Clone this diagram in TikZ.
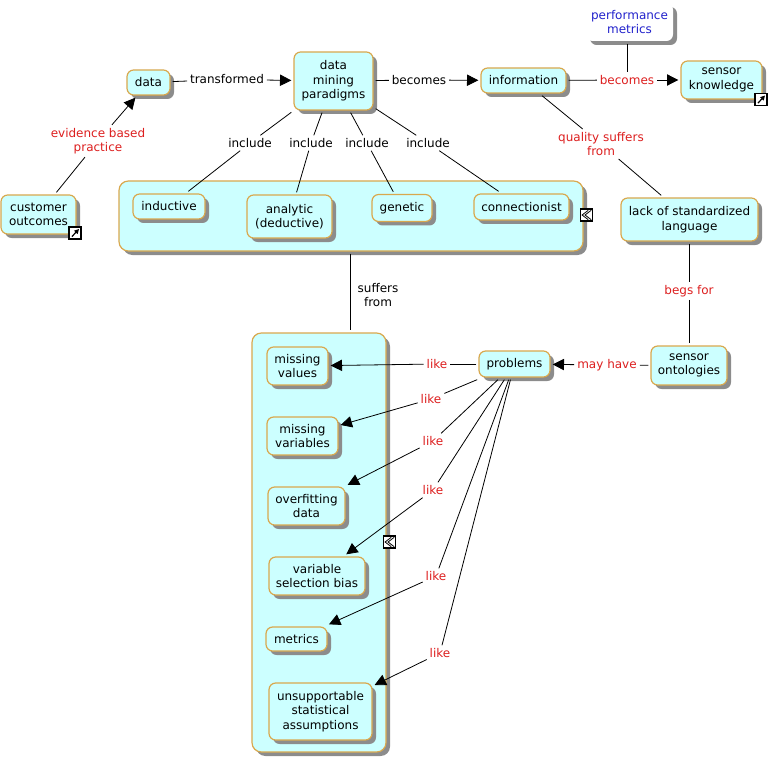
\documentclass[tikz,border=0pt]{standalone}
\usepackage{fontspec}
\setmainfont{DejaVu Sans}
\usetikzlibrary{arrows.meta,shadows}
\definecolor{boxfill}{HTML}{CCFFFF}
\definecolor{boxline}{HTML}{D9A84E}
\definecolor{linkred}{HTML}{DD1F1F}
\definecolor{noteblue}{HTML}{2222CC}
\tikzset{
	boxsize/.style 2 args={minimum width=#1*0.75pt, minimum height=#2*0.75pt},
	concept/.style={draw=boxline, fill=boxfill, line width=0.9pt, rounded corners=5pt, align=center, inner sep=0pt, outer sep=2pt,
		drop shadow={shadow xshift=3pt, shadow yshift=-3pt, fill=black!45, opacity=1}},
	group/.style={concept, rounded corners=7pt},
	note/.style={fill=white, text=noteblue, rounded corners=5pt, align=center, inner sep=0pt, outer sep=2pt,
		drop shadow={shadow xshift=3pt, shadow yshift=-3pt, fill=black!45, opacity=1}},
	lbl/.style={fill=white, align=center, inner sep=2pt},
	rlbl/.style={lbl, text=linkred},
	iconbox/.style={draw=black, fill=white, line width=0.9pt, minimum size=9pt, inner sep=0pt},
	linkicon/.style={iconbox, path picture={
		\draw[line width=0.9pt, -{Triangle[length=3.5pt,width=3.5pt]}] ([shift={(2.2pt,1.8pt)}]path picture bounding box.south west) -- ([shift={(-1.5pt,-1.5pt)}]path picture bounding box.north east);}},
	foldicon/.style={iconbox, path picture={
		\draw[line width=0.6pt] ([shift={(-3.2pt,-1pt)}]path picture bounding box.north east) -- ([shift={(1.2pt,0pt)}]path picture bounding box.west) -- ([shift={(-3.2pt,1pt)}]path picture bounding box.south east);
		\draw[line width=0.6pt] ([shift={(-1pt,-1pt)}]path picture bounding box.north east) -- ([shift={(3.4pt,0pt)}]path picture bounding box.west) -- ([shift={(-1pt,1pt)}]path picture bounding box.south east);}},
}
\begin{document}
\begin{tikzpicture}[x=0.75pt, y=-0.75pt, line width=0.6pt, font=\fontsize{9}{10.9}\selectfont, >={Triangle[length=8.5pt,width=8.5pt]}]
	\useasboundingbox (0, 0) rectangle (770, 759);

	% groups
	\node[group, boxsize={464}{70}] (paradigms) at (351, 216) {};
	\node[group, boxsize={134}{419}] (issues) at (319, 542.5) {};

	% top row
	\node[concept, boxsize={43}{25}] (data) at (148.5, 82.5) {data};
	\node[concept, boxsize={79}{58}] (mining) at (333.5, 81) {data\\mining\\paradigms};
	\node[concept, boxsize={85}{25}] (information) at (523.5, 80.5) {information};
	\node[note, boxsize={87}{38}] (metricsnote) at (629.5, 22) {performance\\metrics};
	\node[concept, boxsize={81}{38}] (knowledge) at (721.5, 80) {sensor\\knowledge};
	\node[concept, boxsize={75}{39}] (outcomes) at (38.5, 214.5) {customer\\outcomes};

	% inside paradigms
	\node[concept, boxsize={72}{25}] (inductive) at (169, 206.5) {inductive};
	\node[concept, boxsize={85}{43}] (analytic) at (289.5, 216.5) {analytic\\(deductive)};
	\node[concept, boxsize={60}{27}] (genetic) at (402, 208) {genetic};
	\node[concept, boxsize={95}{26}] (connectionist) at (521.5, 207) {connectionist};

	% right side
	\node[concept, boxsize={137}{43}] (language) at (689.5, 219.5) {lack of standardized\\language};
	\node[concept, boxsize={76}{39}] (ontologies) at (689, 365.5) {sensor\\ontologies};
	\node[concept, boxsize={71}{26}] (problems) at (514.5, 364) {problems};

	% inside issues
	\node[concept, boxsize={61}{38}] (values) at (297.5, 366) {missing\\values};
	\node[concept, boxsize={71}{38}] (variables) at (302.5, 436) {missing\\variables};
	\node[concept, boxsize={77}{38}] (overfitting) at (306.5, 506) {overfitting\\data};
	\node[concept, boxsize={96}{38}] (selection) at (317, 576) {variable\\selection bias};
	\node[concept, boxsize={61}{24}] (metrics) at (296.5, 639) {metrics};
	\node[concept, boxsize={103}{57}] (assumptions) at (320.5, 711.5) {unsupportable\\statistical\\assumptions};

	% icons
	\node[linkicon] (outcomesicon) at (75, 233) {};
	\node[linkicon] (knowledgeicon) at (761, 99.5) {};
	\node[foldicon] (paradigmsicon) at (586.5, 215) {};
	\node[foldicon] (issuesicon) at (389.5, 542) {};

	% labels
	\node[lbl] (transformed) at (227, 79.5) {transformed};
	\node[lbl] (becomesa) at (419, 80) {becomes};
	\node[rlbl] (becomesb) at (627, 80) {becomes};
	\node[rlbl] (evidence) at (98, 141) {evidence based\\practice};
	\node[lbl] (includea) at (250, 143) {include};
	\node[lbl] (includeb) at (311, 143) {include};
	\node[lbl] (includec) at (367, 143) {include};
	\node[lbl] (included) at (428, 143) {include};
	\node[rlbl] (quality) at (601, 144) {quality suffers\\from};
	\node[lbl, fill=none] (suffers) at (378, 295) {suffers\\from};
	\node[rlbl] (begs) at (689, 291) {begs for};
	\node[rlbl] (mayhave) at (607, 365) {may have};
	\node[rlbl] (likea) at (437, 364) {like};
	\node[rlbl] (likeb) at (431, 399) {like};
	\node[rlbl] (likec) at (433, 441) {like};
	\node[rlbl] (liked) at (433, 490) {like};
	\node[rlbl] (likee) at (436, 576) {like};
	\node[rlbl] (likef) at (440, 653) {like};

	% connectors
	\draw (outcomes) -- (evidence);
	\draw[->] (evidence) -- (data);
	\draw (data) -- (transformed);
	\draw[->] (transformed) -- (mining);
	\draw (mining) -- (becomesa);
	\draw[->] (becomesa) -- (information);
	\draw (information) -- (becomesb);
	\draw[->] (becomesb) -- (knowledge);
	\draw (metricsnote.south -| becomesb) -- (becomesb);
	\draw (mining) -- (includea);
	\draw (includea) -- (inductive);
	\draw (mining) -- (includeb);
	\draw (includeb) -- (analytic);
	\draw (mining) -- (includec);
	\draw (includec) -- (genetic);
	\draw (mining) -- (included);
	\draw (included) -- (connectionist);
	\draw (information) -- (quality);
	\draw (quality) -- (language);
	\draw (language.south -| begs) -- (begs);
	\draw (begs) -- (ontologies.north -| begs);
	\draw (ontologies) -- (mayhave);
	\draw[->] (mayhave) -- (problems);
	\draw ([xshift=-0.75pt]paradigms.south) -- ([xshift=-0.75pt]paradigms.south |- issues.north);
	\draw (problems) -- (likea);
	\draw[->] (likea) -- (values);
	\draw (problems) -- (likeb);
	\draw[->] (likeb) -- (variables);
	\draw (problems) -- (likec);
	\draw[->] (likec) -- (overfitting);
	\draw (problems) -- (liked);
	\draw[->] (liked) -- (selection);
	\draw (problems) -- (likee);
	\draw[->] (likee) -- (metrics);
	\draw (problems) -- (likef);
	\draw[->] (likef) -- (assumptions);
\end{tikzpicture}
\end{document}
